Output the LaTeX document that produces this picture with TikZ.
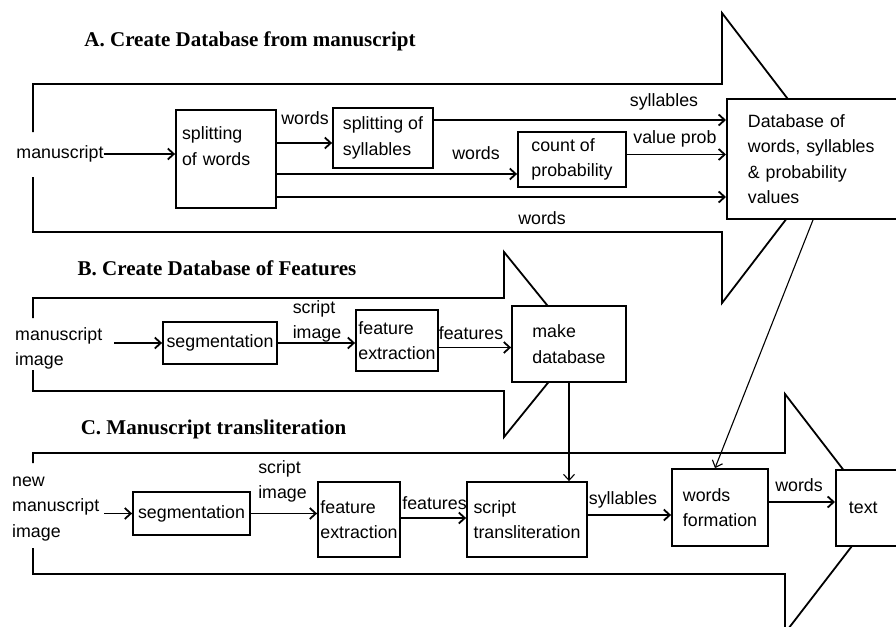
\documentclass[tikz,border=0pt]{standalone}
\usepackage{fontspec}
\setmainfont{Liberation Sans}
\newfontfamily\headfont{Liberation Serif}
\usepackage{tikz}
\usetikzlibrary{arrows.meta,positioning}
\tikzset{
	>={Straight Barb[length=6pt,width=11pt]}, % open arrow heads
	box/.style={draw, line width=1.8pt, fill=white, align=left, inner sep=2pt,
		font=\fontsize{17.8}{25.5}\selectfont},
	lbl/.style={inner sep=0pt, align=left, font=\fontsize{17.8}{25.5}\selectfont},
	head/.style={inner sep=0pt, font=\fontsize{21}{25}\selectfont\headfont\bfseries},
	flow/.style={line width=1.8pt, line join=miter},
	link/.style={->, line width=1.8pt},
	thin link/.style={->, line width=1.1pt},
}

\begin{document}
\begin{tikzpicture}[x=1pt,y=-1pt]
	\useasboundingbox (0,0) rectangle (896,626);
	\clip (0,0) rectangle (896,626);
	\fill[white] (0,0) rectangle (896,626);

	% A. database from the manuscript
	\node[head] (ta) at (250,41) {A. Create Database from manuscript};
	\draw[flow] (33,132) -- (33,84) -- (722,84) -- (722,13) -- (833,158)
		-- (722,303) -- (722,232) -- (33,232) -- (33,177);
	\node[lbl] (ms) at (60,154) {manuscript};
	\node[box, text width=88pt, inner xsep=6pt, minimum height=98pt] (sw) at (226,159) {splitting\\of words\\\mbox{}};
	\node[box, minimum width=100pt, minimum height=60pt] (ss) at (383,138) {splitting of\\syllables};
	\node[box, minimum width=108pt, minimum height=55pt] (cp) at (572,159.5) {count of\\probability};
	\node[box, anchor=west, text width=140pt, inner xsep=21pt, minimum height=120pt] (db) at (726,159) {Database of\\words, syllables\\\& probability\\values};

	\node[lbl] (w1) at (305,118) {words};
	\node[lbl] (sy1) at (664,102) {syllables};
	\node[lbl] (w2) at (476,153) {words};
	\node[lbl] (vp) at (675,139) {value prob};
	\node[lbl] (w3) at (542,218) {words};

	\draw[link] (ms.east) -- (ms.east -| sw.west);
	\draw[link] ([yshift=16pt]sw.east) -- ([yshift=16pt]sw.east -| ss.west);
	\draw[link] ([yshift=18pt]ss.east) -- ([yshift=18pt]ss.east -| db.west);
	\draw[link] ([yshift=-15pt]sw.east) -- ([yshift=-15pt]sw.east -| cp.west);
	\draw[link] ([yshift=5pt]cp.east) -- ([yshift=5pt]cp.east -| db.west);
	\draw[link] ([yshift=-38pt]sw.east) -- ([yshift=-38pt]sw.east -| db.west);

	% B. database of features
	\node[head] (tb) at (217,268) {B. Create Database of Features};
	\draw[flow] (33,318) -- (33,298) -- (504,298) -- (504,252) -- (579,344.5)
		-- (504,437) -- (504,391) -- (33,391) -- (33,370);
	\node[lbl, anchor=west] (mi) at (15,348.5) {manuscript\\image};
	\node[box, minimum width=114pt, minimum height=42pt] (sgb) at (220,343) {segmentation};
	\node[box, minimum width=82pt, minimum height=61pt] (feb) at (397,340.5) {feature\\extraction};
	\node[box, minimum width=114pt, minimum height=76pt] (mdb) at (569,344) {make\\database};

	\node[lbl] (si1) at (317,321.5) {script\\image};
	\node[lbl] (ft1) at (471,333) {features};

	\draw[link] ([xshift=12pt]mi.east |- sgb.west) -- (sgb.west);
	\draw[link] (sgb.east) -- (sgb.east -| feb.west);
	\draw[link] ([yshift=-7pt]feb.east) -- ([yshift=-7pt]feb.east -| mdb.west);

	% C. transliteration
	\node[head] (tc) at (213.5,429) {C. Manuscript transliteration};
	\draw[flow] (33,463) -- (33,453) -- (785,453) -- (785,394) -- (877,513.5)
		-- (785,633) -- (785,574) -- (33,574) -- (33,548);
	\node[lbl, anchor=west] (nm) at (12,509) {new\\manuscript\\image};
	\node[box, minimum width=117pt, minimum height=43pt] (sgc) at (191.5,513.5) {segmentation};
	\node[box, minimum width=82pt, minimum height=75pt] (fec) at (359,519.5) {feature\\extraction};
	\node[box, minimum width=120pt, minimum height=75pt] (stc) at (527,519.5) {script\\transliteration};
	\node[box, minimum width=96pt, minimum height=77pt] (wf) at (720,507.5) {words\\formation};
	\node[box, anchor=west, text width=50pt, inner xsep=13pt, minimum height=76pt] (tx) at (835,508) {text};

	\node[lbl] (si2) at (282.5,481.5) {script\\image};
	\node[lbl] (ft2) at (434.5,503) {features};
	\node[lbl] (sy2) at (623,500) {syllables};
	\node[lbl] (w4) at (799,485) {words};

	\draw[link] ([xshift=5pt]nm.east |- sgc.west) -- (sgc.west);
	\draw[link] (sgc.east) -- (sgc.east -| fec.west);
	\draw[link] ([yshift=1.5pt]fec.east) -- ([yshift=1.5pt]fec.east -| stc.west);
	\draw[link] ([yshift=4.5pt]stc.east) -- ([yshift=4.5pt]stc.east -| wf.west);
	\draw[link] ([yshift=5.5pt]wf.east) -- ([yshift=5.5pt]wf.east -| tx.west);

	% links between the parts
	\draw[thin link] (mdb.south) -- (mdb.south |- stc.north);
	\draw[thin link] ([xshift=87pt]db.south west) -- ([xshift=-5pt]wf.north);
\end{tikzpicture}
\end{document}
